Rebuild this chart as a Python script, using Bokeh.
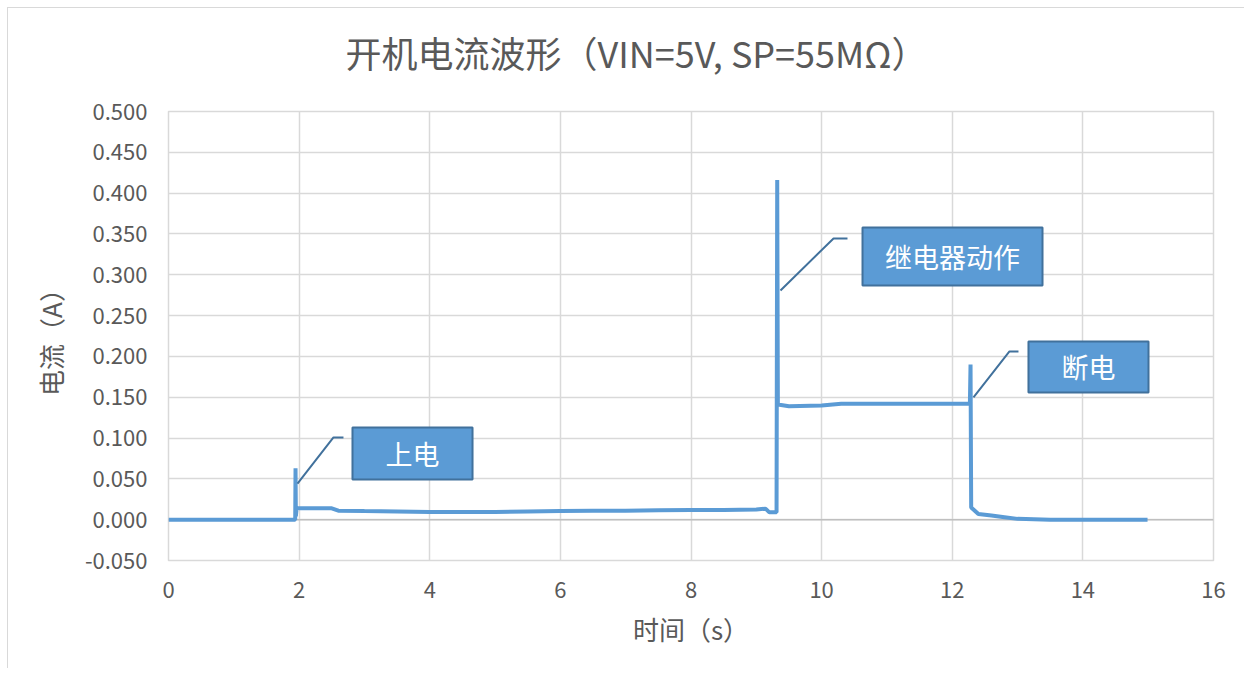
from bokeh.plotting import figure
from bokeh.models import FixedTicker, PrintfTickFormatter, Range1d, Span, ColumnDataSource, Title
from bokeh.core.properties import value
from bokeh.embed import file_html
from bokeh.resources import INLINE

# ---- data ----
time_s = [0.000, 1.940, 1.945, 1.950, 1.960, 1.980, 2.500, 2.600, 3.000, 3.500,
          4.000, 4.500, 5.000, 5.500, 6.000, 6.500, 7.000, 7.500, 8.000, 8.500,
          9.000, 9.140, 9.200, 9.310, 9.320, 9.330, 9.500, 10.000, 10.300, 11.000,
          11.500, 12.000, 12.270, 12.280, 12.290, 12.400, 12.600, 12.800, 13.000, 13.500,
          14.000, 14.990]
current_a = [0.000, 0.000, 0.063, 0.004, 0.013, 0.014, 0.014, 0.011, 0.0105, 0.010,
             0.0095, 0.0093, 0.0095, 0.010, 0.0105, 0.011, 0.011, 0.0115, 0.012, 0.012,
             0.0125, 0.0135, 0.009, 0.009, 0.416, 0.141, 0.139, 0.140, 0.142, 0.142,
             0.142, 0.142, 0.142, 0.190, 0.015, 0.007, 0.005, 0.003, 0.001, 0.000,
             0.000, 0.000]

x_ticks = [0, 2, 4, 6, 8, 10, 12, 14, 16]
y_ticks = [-0.05, 0.0, 0.05, 0.10, 0.15, 0.20, 0.25, 0.30, 0.35, 0.40, 0.45, 0.50]

title_text = "开机电流波形（VIN=5V, SP=55MΩ）"
x_label = "时间（s）"
y_label = "电流（A）"

callout_texts = ["上电", "继电器动作", "断电"]
box_left = [2.817, 10.626, 13.167]
box_right = [4.655, 13.382, 15.005]
box_top = [0.1129, 0.3579, 0.2183]
box_bottom = [0.0492, 0.2869, 0.1558]
leader_x = [[1.975, 2.526, 2.679], [9.370, 10.182, 10.396], [12.325, 12.876, 13.014]]
leader_y = [[0.0443, 0.1007, 0.1007], [0.2808, 0.3445, 0.3445], [0.1497, 0.2061, 0.2061]]

FONT = "Noto Sans CJK SC"
TXT = "#595959"
GRID = "#d9d9d9"

p = figure(width=1237, height=661, output_backend="svg", toolbar_location=None,
           x_range=Range1d(0, 16), y_range=Range1d(-0.05, 0.5),
           min_border_left=160, min_border_right=32, min_border_top=103, min_border_bottom=109)
p.styles = {"margin-left": "7px", "margin-top": "7px",
            "border-top": "1px solid #d9d9d9", "border-left": "1px solid #d9d9d9"}
p.outline_line_color = GRID
p.outline_line_width = 1.5

p.title.text = title_text
p.title.text_font = FONT
p.title.text_font_size = "36px"
p.title.text_font_style = "normal"
p.title.text_color = TXT
p.title.align = "left"
p.title.offset = 177
p.title.standoff = 22

# blank spacer panel between title and plot frame
p.add_layout(Title(text=" ", text_font_size="10px", standoff=10), "above")

for ax in (p.xaxis[0], p.yaxis[0]):
    ax.axis_line_color = None
    ax.major_tick_line_color = None
    ax.minor_tick_line_color = None
    ax.major_label_text_font = FONT
    ax.major_label_text_font_size = "22px"
    ax.major_label_text_color = TXT
    ax.axis_label_text_font = FONT
    ax.axis_label_text_font_size = "26px"
    ax.axis_label_text_color = TXT
    ax.axis_label_text_font_style = "normal"

p.xaxis.ticker = FixedTicker(ticks=x_ticks)
p.yaxis.ticker = FixedTicker(ticks=y_ticks)
p.yaxis.formatter = PrintfTickFormatter(format="%.3f")
p.xaxis.axis_label = x_label
p.yaxis.axis_label = y_label
p.xaxis.major_label_standoff = 15
p.xaxis.axis_label_standoff = 9
p.yaxis.major_label_standoff = 15
p.yaxis.axis_label_standoff = 13

p.xgrid.grid_line_color = GRID
p.ygrid.grid_line_color = GRID
p.xgrid.grid_line_width = 1.5
p.ygrid.grid_line_width = 1.5

p.add_layout(Span(location=0, dimension="width", line_color="#bfbfbf", line_width=1.5, level="underlay"))

p.line(time_s, current_a, line_color="#5B9BD5", line_width=4)

p.multi_line(xs=leader_x, ys=leader_y, line_color="#41719C", line_width=2)
box_src = ColumnDataSource(dict(left=box_left, right=box_right, top=box_top, bottom=box_bottom,
                                cx=[(a + b) / 2 for a, b in zip(box_left, box_right)],
                                cy=[(a + b) / 2 for a, b in zip(box_top, box_bottom)],
                                txt=callout_texts))
p.quad(left="left", right="right", top="top", bottom="bottom", source=box_src,
       fill_color="#5B9BD5", line_color="#41719C", line_width=2)
p.text(x="cx", y="cy", text="txt", source=box_src, text_color="white",
       text_font=value(FONT), text_font_size="27px", text_align="center", text_baseline="middle")

open("out.html", "w").write(file_html(p, INLINE))
